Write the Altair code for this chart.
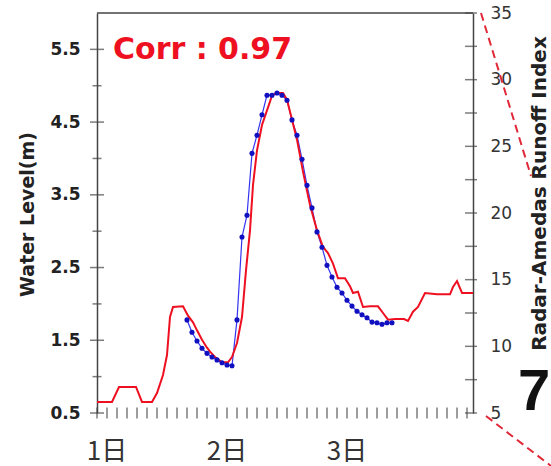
import altair as alt
import pandas as pd

# Time axis: hours since 00:00 on day 1
day_ticks = [0, 24, 48]
day_labels = ["1日", "2日", "3日"]
x_ticks = list(range(-2, 73, 2))

# Radar-Amedas runoff index (right axis)
red_hours = [-2, 1, 2.4, 5.8, 7, 9, 10, 11.2, 12, 12.6, 13.2, 15.2, 16.2, 17.2, 18,
             19, 20, 20.6, 21.6, 23, 24.2, 25, 26, 27, 27.8, 28.6, 29.2, 30, 31, 32,
             33, 33.8, 35.2, 36, 36.6, 38, 39.2, 40.6, 42, 43.2, 44.2, 45.2, 46.2,
             47.6, 48.6, 49.2, 50.2, 51.2, 52.6, 54.2, 55.2, 56.2, 57.6, 59.4, 60.2,
             61.2, 62.2, 63.6, 66, 68.6, 69.2, 70, 71, 73.2]
red_index = [5.83, 5.83, 6.95, 6.95, 5.83, 5.83, 6.5, 7.85, 9.35, 12.2, 12.95, 13.0,
             12.3, 11.8, 11.2, 10.5, 9.9, 9.6, 9.2, 8.8, 8.8, 9.2, 10.25, 12.2, 15.7,
             18.7, 22.1, 24.7, 26.6, 27.7, 28.8, 29.0, 29.0, 28.5, 27.6, 25.5, 23.1,
             20.6, 18.7, 17.45, 17.0, 16.2, 15.1, 15.1, 14.5, 14.0, 14.1, 12.95, 13.0,
             13.0, 12.5, 12.0, 12.05, 12.05, 11.9, 12.6, 12.95, 14.0, 13.9, 13.9,
             14.45, 14.9, 14.0, 14.0]

# Observed water level, hourly (left axis)
blue_hours = list(range(16, 58))
blue_level = [1.78, 1.61, 1.49, 1.39, 1.32, 1.27, 1.23, 1.19, 1.16, 1.15, 1.78, 2.92,
              3.22, 4.07, 4.32, 4.60, 4.87, 4.87, 4.90, 4.87, 4.80, 4.53, 4.32, 3.99,
              3.63, 3.32, 2.99, 2.78, 2.53, 2.37, 2.23, 2.15, 2.05, 1.97, 1.90, 1.85,
              1.81, 1.75, 1.74, 1.72, 1.74, 1.74]

level_major = [0.5, 1.5, 2.5, 3.5, 4.5, 5.5]
level_minor = [1.0, 2.0, 3.0, 4.0, 5.0]
index_major = [5, 10, 15, 20, 25, 30, 35]
index_minor = [7.5, 12.5, 17.5, 22.5, 27.5, 32.5]

corr_text = "Corr : 0.97"

W, H = 376, 400
AXIS_COLOR = "#444444"
RED = "#ee1020"
BLUE = "#3434f0"
DOT = "#1010c0"

red_df = pd.DataFrame({"h": red_hours, "v": red_index})
blue_df = pd.DataFrame({"h": blue_hours, "v": blue_level})
day_df = pd.DataFrame({"h": day_ticks, "t": day_labels})

xscale = alt.Scale(domain=[-2, 73.2], nice=False, zero=False)
lscale = alt.Scale(domain=[0.5, 6.0], nice=False, zero=False)
rscale = alt.Scale(domain=[5, 35], nice=False, zero=False)

x_axis = alt.Axis(values=day_ticks, labels=False, ticks=False, grid=False,
                  domainColor=AXIS_COLOR, domainWidth=1.5, title=None)

left_axis = alt.Axis(values=level_major, format=".1f", ticks=False, grid=False,
                     domainColor=AXIS_COLOR, domainWidth=1.5,
                     labelFont="DejaVu Sans", labelFontWeight="bold", labelFontSize=17,
                     labelColor="#222222", labelPadding=17,
                     title="Water Level(m)", titleFont="DejaVu Sans", titleFontWeight="bold",
                     titleFontSize=19, titleColor="#222222", titleAngle=270,
                     titleX=-64, titleY=201, titleAlign="center", titleBaseline="alphabetic")

right_axis = alt.Axis(values=index_major, orient="right", ticks=False, grid=False,
                      domainColor=AXIS_COLOR, domainWidth=1.5,
                      labelFont="DejaVu Sans", labelFontSize=17, labelColor="#333333",
                      labelPadding=17,
                      title="Radar-Amedas Runoff Index", titleFont="DejaVu Sans",
                      titleFontWeight="bold", titleFontSize=20, titleColor="#222222",
                      titleAngle=270, titleX=72, titleY=180, titleAlign="center",
                      titleBaseline="alphabetic")

blue_line = alt.Chart(blue_df).mark_line(color=BLUE, strokeWidth=1.2).encode(
    x=alt.X("h:Q", scale=xscale, axis=x_axis),
    y=alt.Y("v:Q", scale=lscale, axis=left_axis),
)
blue_pts = alt.Chart(blue_df).mark_circle(color=DOT, size=26, opacity=1).encode(
    x=alt.X("h:Q", scale=xscale, axis=None),
    y=alt.Y("v:Q", scale=lscale, axis=None),
)
red_line = alt.Chart(red_df).mark_line(color=RED, strokeWidth=2).encode(
    x=alt.X("h:Q", scale=xscale, axis=None),
    y=alt.Y("v:Q", scale=rscale, axis=right_axis),
)

# Day labels under the time axis
day_text = alt.Chart(day_df).mark_text(
    font="Noto Sans CJK JP", fontSize=26, color="#333333",
    align="center", baseline="middle"
).encode(x=alt.X("h:Q", scale=xscale, axis=None), y=alt.value(H + 39), text="t:N")

# Axis tick marks that cross the axis lines
def yticks(values, scale, size, xpos):
    return alt.Chart(pd.DataFrame({"v": values})).mark_tick(
        orient="horizontal", size=size, thickness=1.5, color=AXIS_COLOR
    ).encode(y=alt.Y("v:Q", scale=scale, axis=None), x=alt.value(xpos))

lt_major = yticks(level_major, lscale, 14, 0)
lt_minor = yticks(level_minor, lscale, 9, 0)
rt_major = yticks(index_major, rscale, 12, W - 2)
rt_minor = yticks(index_minor, rscale, 12, W - 2)

xt = alt.Chart(pd.DataFrame({"h": x_ticks})).mark_tick(
    orient="vertical", size=11, thickness=1.5, color=AXIS_COLOR
).encode(x=alt.X("h:Q", scale=xscale, axis=None), y=alt.value(H))

top_border = alt.Chart(pd.DataFrame({"a": [0]})).mark_rule(
    color=AXIS_COLOR, strokeWidth=1.5
).encode(x=alt.value(0), x2=alt.value(W), y=alt.value(0))

corr = alt.Chart(pd.DataFrame({"t": [corr_text]})).mark_text(
    font="DejaVu Sans", fontWeight="bold", fontSize=30, color=RED,
    align="left", baseline="alphabetic"
).encode(text="t:N", x=alt.value(16), y=alt.value(46))

# Callout lines and panel number at the right edge
callout_top = alt.Chart(pd.DataFrame({"a": [0]})).mark_rule(
    color="#e02838", strokeWidth=2, strokeDash=[8, 5]
).encode(x=alt.value(384), x2=alt.value(434), y=alt.value(0), y2=alt.value(163))
callout_bot = alt.Chart(pd.DataFrame({"a": [0]})).mark_rule(
    color="#e02838", strokeWidth=2, strokeDash=[8, 5]
).encode(x=alt.value(389), x2=alt.value(458), y=alt.value(403), y2=alt.value(456))
panel_no = alt.Chart(pd.DataFrame({"t": ["7"]})).mark_text(
    font="Liberation Sans Narrow, Liberation Sans", fontWeight="bold", fontSize=58,
    color="#111111", align="left", baseline="alphabetic"
).encode(text="t:N", x=alt.value(421), y=alt.value(397))

chart = alt.layer(
    top_border, callout_top, callout_bot, panel_no,
    lt_major, lt_minor, rt_major, rt_minor, xt,
    blue_line, red_line, blue_pts, corr, day_text
).resolve_scale(y="independent").properties(
    width=W, height=H, autosize="none",
    padding={"left": 97, "top": 13, "right": 78, "bottom": 53},
).configure_view(stroke=None)

chart.save("out.html", embed_options={"renderer": "svg", "actions": False})
